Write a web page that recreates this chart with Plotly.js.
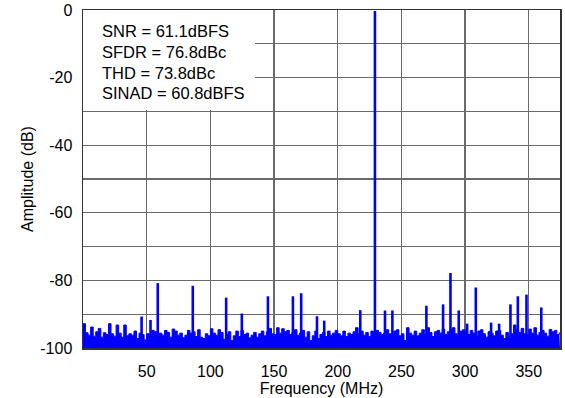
<!DOCTYPE html>
<html>
<head>
<meta charset="utf-8">
<script src="https://cdn.plot.ly/plotly-3.0.1.min.js"></script>
<style>html,body{margin:0;padding:0;background:#fff;}#chart{width:565px;height:398px;}</style>
</head>
<body>
<div id="chart"></div>
<script>
// Noise floor, one value every 2 MHz starting at 0 MHz (dB)
const noiseStepMHz = 2;
const noiseFloor = [
  -92.8,-95.5,-96.2,-93.8,-96.5,-95.2,-94.2,-96.8,-95.5,-96.0,
  -92.8,-95.8,-96.5,-93.2,-95.6,-96.8,-93.2,-96.4,-95.8,-96.2,
  -95.0,-97.2,-95.6,-96.0,-97.6,-95.8,-96.4,-94.8,-95.2,-96.0,
  -95.6,-96.2,-94.8,-95.4,-96.8,-94.4,-95.0,-96.2,-95.6,-97.0,
  -96.2,-94.8,-95.6,-95.2,-96.6,-94.6,-96.8,-97.2,-95.8,-96.4,
  -94.3,-95.6,-96.2,-94.6,-95.4,-97.4,-96.0,-95.2,-97.8,-96.4,
  -95.0,-96.6,-94.8,-96.0,-95.6,-97.0,-96.2,-95.4,-96.8,-95.8,
  -95.0,-96.4,-95.2,-94.2,-95.8,-96.0,-94.0,-95.6,-94.3,-95.2,
  -94.8,-96.0,-95.4,-94.6,-96.2,-95.6,-94.8,-96.8,-95.2,-97.8,
  -96.4,-95.0,-97.2,-96.0,-95.4,-96.6,-95.0,-96.2,-95.6,-94.8,
  -95.8,-96.4,-95.0,-96.6,-95.6,-96.0,-95.2,-94.0,-95.8,-95.0,
  -96.2,-95.4,-96.6,-95.0,-95.8,-94.8,-95.4,-96.0,-95.6,-94.6,
  -95.8,-96.2,-95.0,-94.6,-96.4,-95.8,-97.8,-94.0,-95.6,-96.2,
  -95.0,-96.4,-95.6,-94.6,-96.0,-94.0,-95.4,-96.6,-95.2,-94.8,
  -95.6,-94.4,-96.0,-95.2,-94.6,-94.0,-95.8,-96.2,-95.0,-94.6,
  -95.4,-96.0,-94.8,-95.6,-96.4,-95.0,-94.6,-95.8,-96.8,-95.2,
  -95.6,-96.4,-95.0,-94.8,-96.2,-97.2,-95.4,-96.8,-95.8,-93.2,
  -94.6,-95.4,-94.2,-95.8,-96.0,-94.4,-95.6,-94.0,-96.2,-95.4,
  -94.8,-95.6,-96.5,-94.5,-95.2,-94.8,-96.0,-95.4
];

// Tone and spurs (MHz, dB)
const spurFreq = [46, 53, 58.7, 86.2, 112.4, 124.7, 145.2, 164.8, 171.3, 183.7, 189.4, 217.7,
                  229.2, 237.1, 242.9, 269.6, 282.7, 288.5, 295, 301.6, 308.4, 320.4, 326.7,
                  335.6, 341.4, 348.2, 359.8];
const spurAmp  = [-90.7, -91.7, -80.8, -81.6, -85.1, -89.8, -84.7, -84.7, -83.8, -90.6, -91.9, -88.8,
                  -0.3, -88.9, -88.9, -87.5, -87.1, -77.8, -88.9, -92.8, -82.1, -92.5, -92.8,
                  -87.1, -84.7, -84.2, -88.0];

const statsLabels = ["SNR = 61.1dBFS", "SFDR = 76.8dBc", "THD = 73.8dBc", "SINAD = 60.8dBFS"];
const statsY = [-6.2, -12.5, -18.5, -24.5];

const xTicks = [50, 100, 150, 200, 250, 300, 350];
const yTicks = [0, -20, -40, -60, -80, -100];
const yTickText = ["0", "-20", "-40", "-60", "-80", "-100"];
const yMinorGrid = [-10, -30, -50, -70, -90];
const xRange = [0, 374.5];
const yRange = [-100, 0];

const noiseX = noiseFloor.map((_, i) => i * noiseStepMHz);

const spurX = [], spurY = [];
spurFreq.forEach((f, i) => { spurX.push(f, f, null); spurY.push(yRange[0], spurAmp[i], null); });

const blue = '#0000ff';
const traces = [
  {x: xRange, y: [yRange[0], yRange[0]], mode: 'lines', line: {width: 0, color: blue}, hoverinfo: 'skip'},
  {x: noiseX, y: noiseFloor, mode: 'lines', line: {shape: 'hv', width: 1, color: blue},
   fill: 'tonexty', fillcolor: blue},
  {x: spurX, y: spurY, mode: 'lines', line: {width: 2.6, color: blue}}
];

const font = {family: '"Liberation Sans", Arial, sans-serif', size: 16, color: '#000'};

const layout = {
  width: 565, height: 398,
  margin: {l: 83, r: 5, t: 10, b: 50},
  paper_bgcolor: '#fff', plot_bgcolor: '#fff',
  showlegend: false,
  font: font,
  xaxis: {
    range: xRange, tickmode: 'array', tickvals: xTicks, ticks: '', ticklabelstandoff: 8,
    showgrid: true, gridcolor: '#6a6a6a', gridwidth: 1.3,
    showline: true, mirror: true, linecolor: '#333', linewidth: 1.5, zeroline: false,
    tickfont: {size: 16},
    title: {text: 'Frequency (MHz)', font: {size: 16}, standoff: 4}
  },
  yaxis: {
    range: yRange, tickmode: 'array', tickvals: yTicks, ticktext: yTickText, ticks: '', ticklabelstandoff: 6,
    showgrid: true, gridcolor: '#6a6a6a', gridwidth: 1.3,
    showline: true, mirror: true, linecolor: '#333', linewidth: 1.5, zeroline: false,
    minor: {tickmode: 'array', tickvals: yMinorGrid, showgrid: true, gridcolor: '#6a6a6a', gridwidth: 1.3},
    tickfont: {size: 16},
    title: {text: 'Amplitude (dB)', font: {size: 16}, standoff: 2}
  },
  shapes: [
    {type: 'rect', xref: 'x', yref: 'y', x0: 0, x1: 135, y0: -29.6, y1: 0,
     fillcolor: '#fff', line: {width: 0}, layer: 'between'}
  ],
  annotations: statsLabels.map((t, i) => ({
    text: t, xref: 'x', yref: 'y', x: 13.4, y: statsY[i], xanchor: 'left', yanchor: 'middle',
    showarrow: false, font: {size: 16.5, color: '#000'}
  }))
};

Plotly.newPlot('chart', traces, layout, {displayModeBar: false, staticPlot: true});
</script>
</body>
</html>
